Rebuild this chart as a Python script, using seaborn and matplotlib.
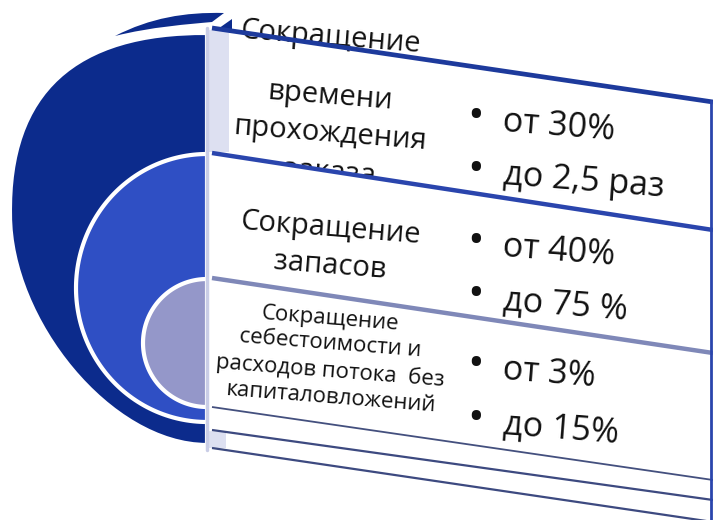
import numpy as np
import matplotlib
matplotlib.use("Agg")
import matplotlib.pyplot as plt
import seaborn as sns
from matplotlib.patches import Polygon, PathPatch
from matplotlib.path import Path

# ---- data ----
labels = [
    ["Сокращение", "времени", "прохождения", "заказа"],
    ["Сокращение", "запасов"],
    ["Сокращение", "себестоимости и", "расходов потока  без", "капиталовложений"],
]
bullet_from = ["от 30%", "от 40%", "от 3%"]
bullet_to = ["до 2,5 раз", "до 75 %", "до 15%"]

sns.set_theme(style="white")
FONT = ["Open Sans", "DejaVu Sans"]
plt.rcParams["font.family"] = FONT

W, H = 713, 520
fig = plt.figure(figsize=(W / 100, H / 100), dpi=100)
ax = fig.add_axes([0, 0, 1, 1])
ax.set_xlim(0, W)
ax.set_ylim(H, 0)
ax.axis("off")

DARK = "#0c2b8c"
MID = "#2f4fc4"
PALE = "#9497c9"
FACE = "#dde0f1"
INK = "#111111"

C4 = Path.CURVE4


def bez_patch(verts, codes, **kw):
    return PathPatch(Path(verts, codes), **kw)


# back sliver at top
sl_v = [(115, 36), (150, 18), (185, 12), (224, 13),
        (212, 22),
        (190, 24), (150, 27), (115, 36)]
sl_c = [Path.MOVETO, C4, C4, C4, Path.LINETO, C4, C4, C4]
ax.add_patch(bez_patch(sl_v, sl_c, fc=DARK, ec="none", zorder=1))
ax.add_patch(Polygon([(215, 31), (232, 19), (232, 33)], fc=DARK, ec="none", zorder=1))

# outer half-disc (perspective: fuller at the top)
out_v = [(207, 33), (75, 32), (8, 92), (10, 215),
         (10, 320), (110, 445), (207, 445), (207, 33)]
out_c = [Path.MOVETO, C4, C4, C4, C4, C4, C4, Path.CLOSEPOLY]
ax.add_patch(bez_patch(out_v, out_c, fc=DARK, ec="white", lw=3, zorder=2))


def semi_ellipse(cx, cy, rx, ry, n=120):
    t = np.linspace(np.pi / 2, 3 * np.pi / 2, n)
    return np.column_stack([cx + rx * np.cos(t), cy - ry * np.sin(t)])


for (cx, cy, rx, ry, col) in [(207, 288, 131, 134, MID),
                              (207, 343, 64, 64, PALE)]:
    ax.add_patch(Polygon(semi_ellipse(cx, cy, rx, ry), closed=True, fc=col,
                         ec="white", lw=3, zorder=2))

# row boundary lines: (y at left x=212, y at right x=713)
xl, xr = 212, 713
rows = [(28, 102), (153, 230), (278, 353), (407, 480), (430, 500), (448, 522)]
styles = [("#1d3a9c", 3.4), ("#2a45ad", 3.2), ("#7f88b8", 3.2),
          ("#44507e", 1.3), ("#3d4a80", 1.6), ("#3d4a80", 1.6)]

# side faces
ax.add_patch(Polygon([(207, 30), (229, 31), (229, 152), (207, 152)], fc=FACE, ec="none", zorder=3))
ax.add_patch(Polygon([(207, 431), (226, 432), (226, 448), (207, 448)], fc=FACE, ec="none", zorder=3))
ax.plot([207, 207], [28, 450], color="#c9cde6", lw=2.5, zorder=3)

for k, (c, lw) in enumerate(styles):
    ax.plot([xl, xr], [rows[k][0], rows[k][1]], color=c, lw=lw, zorder=5,
            solid_capstyle="butt")
ax.plot([711, 711], [101, 520], color="#2a45ad", lw=2, zorder=5)

# white body of the second row hides the overflowing end of the first label
ax.add_patch(Polygon([(xl + 2, rows[1][0]), (xr - 3, rows[1][1]), (xr - 3, rows[2][1]),
                      (xl + 2, rows[2][0])], closed=True, fc="white", ec="none", zorder=3.8))

ROT = -4.5
# labels
label_pos = [
    ([38, 96, 134, 173], 21),
    ([229, 266], 21),
    ([319, 344, 371, 398], 16),
]
for k, (ys, fs) in enumerate(label_pos):
    for i, (line, y) in enumerate(zip(labels[k], ys)):
        z = 3.5 if (k == 0 and i == len(labels[0]) - 1) else 4
        ax.text(330, y, line, ha="center", va="center", fontsize=fs, color=INK,
                rotation=ROT, rotation_mode="anchor", zorder=z)

# bullets
bullet_y = [(122, 175), (247, 300), (370, 424)]
for k in range(3):
    for txt, y in zip([bullet_from[k], bullet_to[k]], bullet_y[k]):
        ax.text(476, y - 4, "•", ha="center", va="center", fontsize=32, color=INK, zorder=4)
        ax.text(503, y, txt, ha="left", va="center", fontsize=24.5, color=INK,
                rotation=ROT, rotation_mode="anchor", zorder=4)

fig.savefig("out.png", dpi=100, facecolor="white")
